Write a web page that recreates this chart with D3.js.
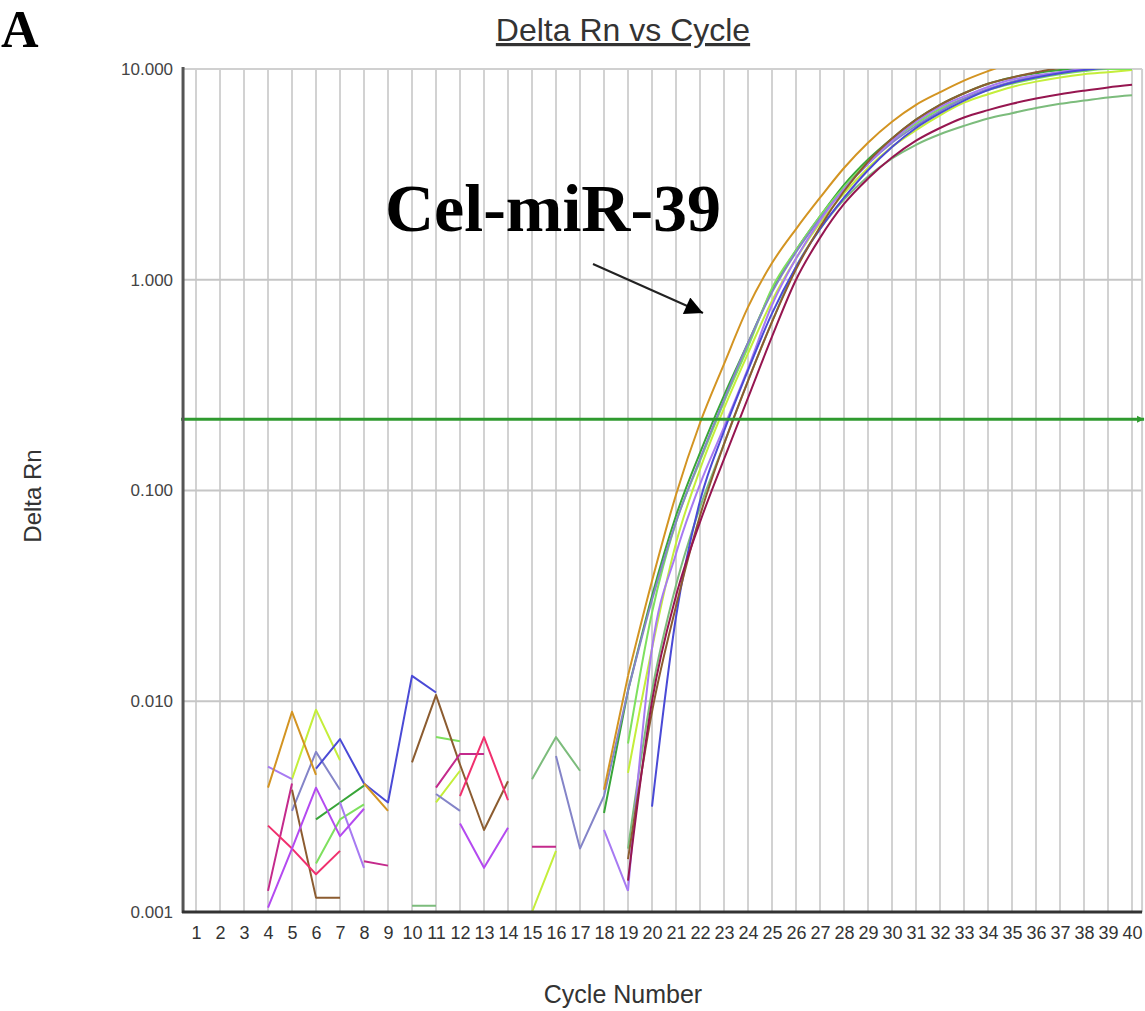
<!DOCTYPE html>
<html>
<head>
<meta charset="utf-8">
<script src="https://cdn.jsdelivr.net/npm/d3@7"></script>
<style>
  body { margin: 0; background: #fff; }
  svg { display: block; font-family: "Liberation Sans", Arial, sans-serif; }
</style>
</head>
<body>
<svg id="chart" width="1145" height="1011"></svg>
<script>
// cycle numbers on the x axis
const cycles = [1,2,3,4,5,6,7,8,9,10,11,12,13,14,15,16,17,18,19,20,
                21,22,23,24,25,26,27,28,29,30,31,32,33,34,35,36,37,38,39,40];

const yTicks      = [0.001, 0.01, 0.1, 1, 10];
const yTickLabels = ["0.001", "0.010", "0.100", "1.000", "10.000"];

const threshold = 0.218;

// Delta Rn per well, cycle 1..40 (null = not plotted, <= 0 on the log axis)
const orangeRn = [
  null,null,null,0.00389,0.00891,0.00447,null,0.00407,0.00302,null,
  null,null,null,null,null,null,null,0.0038,0.0132,0.0372,
  0.0955,0.209,0.398,0.741,1.20,1.74,2.45,3.39,4.47,5.62,
  6.76,7.76,8.81,9.77,10.7,11.5,12.0,12.6,13.0,13.5];

const lightGreenRn = [
  null,null,null,null,null,0.0017,0.00275,0.00324,null,null,
  0.00676,0.00646,null,null,null,null,null,null,0.0063,0.0263,
  0.0708,0.138,0.263,0.479,0.912,1.38,2.00,2.75,3.63,4.57,
  5.50,6.46,7.24,7.94,8.51,9.02,9.44,9.77,10.0,10.0];

const limeRn = [
  null,null,null,null,0.00427,0.00912,0.00525,null,null,null,
  0.00331,0.00468,null,null,0.001,0.00195,null,null,0.00457,0.0178,
  0.0562,0.126,0.245,0.447,0.794,1.26,1.86,2.57,3.39,4.27,
  5.13,6.03,6.92,7.59,8.22,8.71,9.12,9.44,9.66,9.89];

const blueRn = [
  null,null,null,null,null,0.00479,0.00661,0.00407,0.00331,0.0132,
  0.011,null,null,null,null,null,null,null,null,0.00316,
  0.0251,0.0891,0.191,0.372,0.692,1.15,1.74,2.45,3.31,4.27,
  5.25,6.17,7.08,7.94,8.61,9.12,9.55,9.89,10.1,10.2];

const lavenderRn = [
  null,null,null,0.0049,0.00427,null,0.00331,0.00162,null,null,
  null,null,null,null,null,null,null,0.00245,0.00126,0.0178,
  0.0501,0.107,0.2,0.38,0.759,1.26,1.91,2.69,3.55,4.57,
  5.62,6.61,7.41,8.22,8.91,9.33,9.66,10.0,10.2,10.5];

const slateRn = [
  null,null,null,null,0.00302,0.00575,0.0038,null,null,null,
  0.00363,0.00302,null,null,null,0.0055,0.002,0.00355,0.0112,0.0302,
  0.0708,0.141,0.269,0.501,0.871,1.35,1.95,2.69,3.55,4.47,
  5.37,6.31,7.24,8.04,8.71,9.23,9.66,10.0,10.2,10.5];

const brownRn = [
  null,null,null,null,0.0038,0.00117,0.00117,null,null,0.00513,
  0.0107,0.00501,0.00245,0.00417,null,null,null,null,0.00178,0.00891,
  0.0282,0.0759,0.166,0.331,0.631,1.12,1.78,2.63,3.63,4.68,
  5.75,6.76,7.67,8.51,9.12,9.66,10.1,10.5,10.7,11.0];

const maroonRn = [
  null,null,null,null,null,null,null,null,null,null,
  null,null,null,null,null,null,null,null,0.00141,0.01,
  0.0316,0.0708,0.141,0.275,0.537,1.0,1.58,2.29,3.02,3.80,
  4.57,5.25,5.89,6.38,6.84,7.24,7.59,7.89,8.17,8.41];

const greenRn = [
  null,null,null,null,null,0.00275,0.00331,0.00398,null,null,
  null,null,null,null,null,null,null,0.00295,0.0112,0.0316,
  0.0759,0.151,0.282,0.501,0.891,1.38,2.0,2.82,3.72,4.68,
  5.75,6.76,7.67,8.51,9.12,9.55,9.89,10.0,10.1,10.0];

const grayGreenRn = [
  null,null,null,null,null,null,null,null,null,0.00107,
  0.00107,null,null,null,0.00427,0.00676,0.00468,null,0.002,0.0112,
  0.0355,0.0832,0.166,0.331,0.631,1.15,1.74,2.40,3.09,3.76,
  4.37,4.90,5.37,5.82,6.17,6.53,6.84,7.08,7.33,7.50];

const magentaRn = [
  null,null,null,0.00126,0.00407,null,null,0.00174,0.00166,null,
  0.00389,0.00562,0.00562,null,0.00204,0.00204,null,null,null,null,
  null,null,null,null,null,null,null,null,null,null,
  null,null,null,null,null,null,null,null,null,null];

const pinkRn = [
  null,null,null,0.00257,0.002,0.00151,0.00195,null,null,null,
  null,0.00355,0.00676,0.00339,null,null,null,null,null,null,
  null,null,null,null,null,null,null,null,null,null,
  null,null,null,null,null,null,null,null,null,null];

const violetRn = [
  null,null,null,0.00105,0.002,0.00389,0.00229,0.00309,null,null,
  null,0.00263,0.00162,0.00251,null,null,null,null,null,null,
  null,null,null,null,null,null,null,null,null,null,
  null,null,null,null,null,null,null,null,null,null];

const wells = [
  { values: grayGreenRn,  color: "#7cbc7c" },
  { values: greenRn,      color: "#38a538" },
  { values: limeRn,       color: "#c4ee3a" },
  { values: lightGreenRn, color: "#7ee05e" },
  { values: slateRn,      color: "#8484c8" },
  { values: lavenderRn,   color: "#a77af2" },
  { values: blueRn,       color: "#4a4ad6" },
  { values: brownRn,      color: "#8c5c30" },
  { values: maroonRn,     color: "#961650" },
  { values: orangeRn,     color: "#d39422" },
  { values: magentaRn,    color: "#c42a8c" },
  { values: pinkRn,       color: "#f0306e" },
  { values: violetRn,     color: "#b44af0" }
];

// baseline noise is drawn straight, the amplification part smooth
const smoothFrom = 19;

const svg = d3.select("#chart");

let x = d3.scaleLinear().domain([1, 40]).range([196, 1132]);
let y = d3.scaleLog().domain([0.001, 10]).range([912, 69]);

const plotLeft = x(0.46), plotRight = x(40.42);
const plotTop = y(10), plotBottom = y(0.001);

const defs = svg.append("defs");
defs.append("clipPath").attr("id", "plot-clip")
  .append("rect")
  .attr("x", plotLeft).attr("y", plotTop)
  .attr("width", plotRight - plotLeft).attr("height", plotBottom - plotTop);

defs.append("marker")
  .attr("id", "head-black")
  .attr("viewBox", "0 0 10 10")
  .attr("refX", 10).attr("refY", 5)
  .attr("markerWidth", 22).attr("markerHeight", 18)
  .attr("markerUnits", "userSpaceOnUse")
  .attr("orient", "auto")
  .append("path").attr("d", "M0,0 L10,5 L0,10 Z").attr("fill", "#000");

defs.append("marker")
  .attr("id", "head-green")
  .attr("viewBox", "0 0 10 10")
  .attr("refX", 10).attr("refY", 5)
  .attr("markerWidth", 7).attr("markerHeight", 8)
  .attr("markerUnits", "userSpaceOnUse")
  .attr("orient", "auto")
  .append("path").attr("d", "M0,0 L10,5 L0,10 Z").attr("fill", "#2f9a2f");

// panel letter
svg.append("text")
  .attr("x", 1).attr("y", 47)
  .attr("font-family", "'Liberation Serif', 'Times New Roman', serif")
  .attr("font-weight", "bold")
  .attr("font-size", 52)
  .attr("fill", "#000")
  .text("A");

// title
svg.append("text")
  .attr("x", 623).attr("y", 41)
  .attr("text-anchor", "middle")
  .attr("font-size", 32)
  .attr("fill", "#333")
  .attr("text-decoration", "underline")
  .text("Delta Rn vs Cycle");

// grid
let grid = svg.append("g");
grid.selectAll("line.v")
  .data(cycles)
  .enter().append("line")
  .attr("class", "v")
  .attr("x1", d => x(d)).attr("x2", d => x(d))
  .attr("y1", plotTop).attr("y2", plotBottom)
  .attr("stroke", "#d2d2d2")
  .attr("stroke-width", 2);

grid.selectAll("line.h")
  .data(yTicks.slice(1, -1))
  .enter().append("line")
  .attr("class", "h")
  .attr("x1", plotLeft).attr("x2", plotRight)
  .attr("y1", d => y(d)).attr("y2", d => y(d))
  .attr("stroke", "#c6c6c6")
  .attr("stroke-width", 2);

grid.append("line")
  .attr("x1", plotLeft).attr("x2", plotRight)
  .attr("y1", plotTop).attr("y2", plotTop)
  .attr("stroke", "#d0d0d0").attr("stroke-width", 2);

grid.append("line")
  .attr("x1", plotRight).attr("x2", plotRight)
  .attr("y1", plotTop).attr("y2", plotBottom)
  .attr("stroke", "#d0d0d0").attr("stroke-width", 2);

// wells
const noiseLine = d3.line()
  .defined(d => d.v != null)
  .x(d => x(d.c))
  .y(d => y(d.v));

const ampLine = d3.line()
  .defined(d => d.v != null)
  .curve(d3.curveMonotoneX)
  .x(d => x(d.c))
  .y(d => y(d.v));

const points = (w) => cycles.map((c, i) => ({ c: c, v: w.values[i] }));

let curves = svg.append("g").attr("clip-path", "url(#plot-clip)");
let well = curves.selectAll("g")
  .data(wells)
  .enter().append("g")
  .attr("fill", "none")
  .attr("stroke", d => d.color)
  .attr("stroke-width", 2)
  .attr("stroke-linejoin", "round");

well.append("path")
  .attr("d", d => noiseLine(points(d).filter(p => p.c <= smoothFrom)));
well.append("path")
  .attr("d", d => ampLine(points(d).filter(p => p.c >= smoothFrom)));

// threshold
svg.append("line")
  .attr("x1", plotLeft - 2).attr("x2", plotRight + 2)
  .attr("y1", y(threshold)).attr("y2", y(threshold))
  .attr("stroke", "#2f9a2f")
  .attr("stroke-width", 3)
  .attr("marker-end", "url(#head-green)");

// axes
let xAxis = d3.axisBottom(x)
  .tickValues(cycles)
  .tickSize(0)
  .tickPadding(14);

let gx = svg.append("g")
  .attr("transform", "translate(0," + plotBottom + ")")
  .call(xAxis);
gx.select(".domain").remove();
gx.selectAll("text")
  .attr("font-size", 18)
  .attr("font-family", "'Liberation Sans', Arial, sans-serif")
  .attr("fill", "#333");

let yAxis = d3.axisLeft(y)
  .tickValues(yTicks)
  .tickFormat((d, i) => yTickLabels[i])
  .tickSize(0)
  .tickPadding(10);

let gy = svg.append("g")
  .attr("transform", "translate(" + plotLeft + ",0)")
  .call(yAxis);
gy.select(".domain").remove();
gy.selectAll("text")
  .attr("font-size", 17)
  .attr("font-family", "'Liberation Sans', Arial, sans-serif")
  .attr("fill", "#444");

svg.append("line")
  .attr("x1", plotLeft).attr("x2", plotLeft)
  .attr("y1", plotTop - 2).attr("y2", plotBottom + 1)
  .attr("stroke", "#555").attr("stroke-width", 3);

svg.append("line")
  .attr("x1", plotLeft - 1).attr("x2", plotRight)
  .attr("y1", plotBottom).attr("y2", plotBottom)
  .attr("stroke", "#333").attr("stroke-width", 3);

// axis titles
svg.append("text")
  .attr("transform", "translate(41,496) rotate(-90)")
  .attr("text-anchor", "middle")
  .attr("font-size", 24)
  .attr("fill", "#333")
  .text("Delta Rn");

svg.append("text")
  .attr("x", 623).attr("y", 1003)
  .attr("text-anchor", "middle")
  .attr("font-size", 25)
  .attr("fill", "#333")
  .text("Cycle Number");

// annotation
svg.append("text")
  .attr("x", 385).attr("y", 231)
  .attr("font-family", "'Liberation Serif', 'Times New Roman', serif")
  .attr("font-weight", "bold")
  .attr("font-size", 68)
  .attr("fill", "#000")
  .text("Cel-miR-39");

svg.append("line")
  .attr("x1", 593).attr("y1", 264)
  .attr("x2", 703).attr("y2", 313)
  .attr("stroke", "#222")
  .attr("stroke-width", 2)
  .attr("marker-end", "url(#head-black)");
</script>
</body>
</html>
